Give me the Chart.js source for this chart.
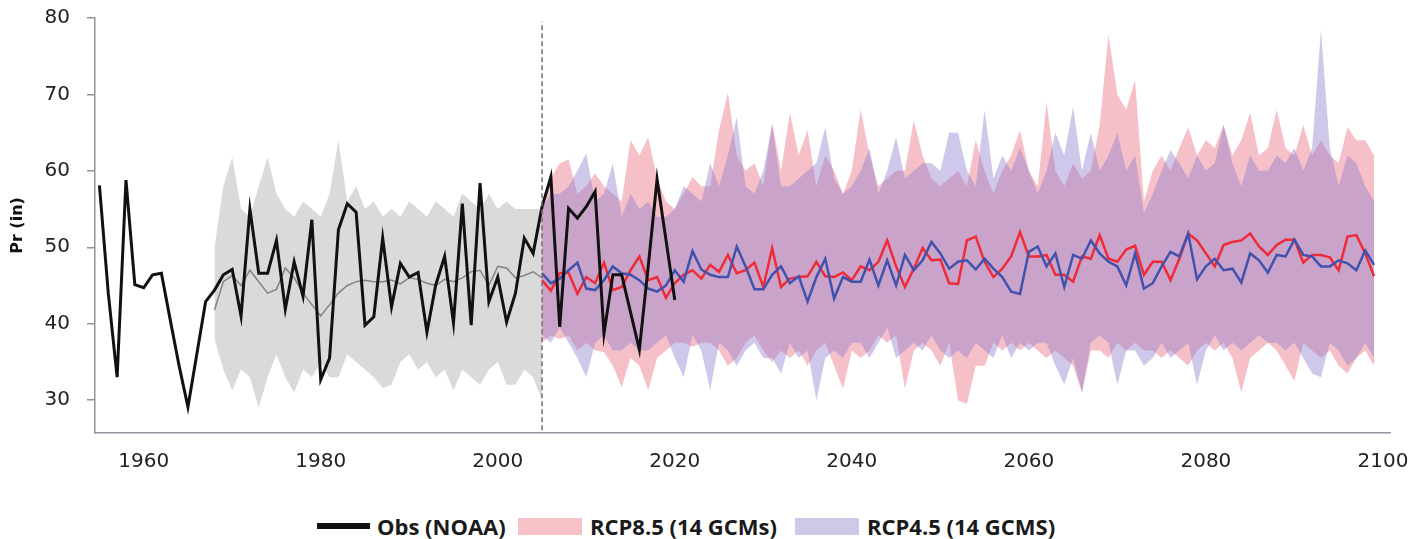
<!DOCTYPE html>
<html>
<head>
<meta charset="utf-8">
<script src="https://cdn.jsdelivr.net/npm/chart.js@4.4.0/dist/chart.umd.min.js"></script>
<style>
    html, body { margin: 0; padding: 0; background: #fff; }
    #wrap { position: relative; width: 1422px; height: 539px; }
    #chartBox { position: absolute; left: 0; top: 0; width: 1422px; height: 490px; }
    .leg {
        position: absolute; top: 512px; height: 28px;
        display: flex; align-items: center; white-space: nowrap;
        font-family: 'Open Sans'; font-weight: bold; font-size: 22px; color: #1a1a1a;
    }
    .leg .sw-line { width: 53px; height: 6px; background: #111; margin-right: 7px; }
    .leg .sw-box { width: 64px; height: 17px; margin-right: 8px; }
</style>
</head>
<body>
<div id="wrap">
    <div id="chartBox"><canvas id="prChart"></canvas></div>
    <div class="leg" style="left:317px"><div class="sw-line"></div><span>Obs (NOAA)</span></div>
    <div class="leg" style="left:518px"><div class="sw-box" style="background:#f6c2c8"></div><span>RCP8.5 (14 GCMs)</span></div>
    <div class="leg" style="left:795px"><div class="sw-box" style="background:#cdc9e7"></div><span>RCP4.5 (14 GCMS)</span></div>
</div>
<script>
// Annual precipitation (in)

const obsStart = 1955;
const obsValues = [
    58.1, 44, 33, 58.8, 45.1, 44.7, 46.4, 46.6, 40.5, 34.5,
    29.1, 36, 42.9, 44.4, 46.4, 47.1, 41.0, 55.0, 46.6, 46.6,
    50.9, 41.9, 48.1, 43.6, 53.6, 32.7, 35.5, 52.3, 55.7, 54.6,
    39.8, 40.9, 51.2, 42.2, 47.9, 46.1, 46.7, 38.9, 45.1, 48.8,
    40.1, 55.7, 39.8, 58.4, 42.9, 46.1, 40.2, 44.0, 51.2, 49.2,
    55.3, 59.2, 39.6, 55.1, 53.8, 55.3, 57.3, 38.7, 46.4, 46.4,
    41.5, 36.6, 47.5, 58.9, 51, 43.1
];

// historical GCM envelope, 1968-2005
const histStart = 1968;
const histHigh = [
    50, 58, 61.8, 55, 54, 58, 61.8, 57, 55, 54,
    56, 55, 54, 57, 64, 56, 58, 55, 56, 54,
    55, 54, 56, 55, 54, 56, 55, 54, 57, 56,
    55, 57, 55, 56, 55, 55, 55, 55
];
const histLow = [
    38, 34, 31.3, 34, 33, 29, 33, 36, 33, 31,
    34, 33, 35, 33, 33, 36, 35, 34, 33, 31.6,
    32, 35, 36, 34, 35, 33, 34, 31.3, 34, 33,
    32, 34, 35, 32, 32, 34, 33, 30
];
const histMean = [
    41.8, 45.5, 46.3, 45, 47, 45.5, 44, 44.5, 47.3, 46,
    44, 42.5, 41, 42.5, 44, 45, 45.5, 45.7, 45.5, 45.5,
    45.7, 45.2, 46, 45.8, 45.3, 45, 45.8, 45.5, 46, 46.8,
    47, 45, 47.5, 47.3, 46, 46.3, 46.8, 46
];

// projections, 2005-2099
const projStart = 2005;
const rcp85Mean = [
    45.7, 44.3, 46.6, 46.7, 43.9, 46.1, 45.3, 48.0, 44.4, 44.8,
    47.0, 48.8, 45.7, 46.1, 43.4, 45.3, 46.4, 47.0, 45.9, 47.7,
    46.8, 49.0, 46.6, 47.0, 48.0, 44.8, 49.9, 44.8, 45.9, 46.1,
    46.2, 48.1, 46.2, 46.1, 46.7, 45.7, 47.5, 47.0, 48.1, 50.9,
    47.5, 44.8, 47.2, 49.9, 48.3, 48.4, 45.3, 45.2, 50.9, 51.4,
    48.1, 46.1, 47.2, 48.8, 52.0, 48.8, 48.8, 49.0, 46.4, 46.4,
    45.5, 48.8, 48.5, 51.6, 48.5, 48.1, 49.7, 50.2, 46.4, 48.1,
    48.1, 45.7, 48.5, 51.8, 50.9, 49.2, 47.5, 50.3, 50.7, 50.9,
    51.8, 50.1, 49.0, 50.3, 51.0, 51.0, 48.0, 49.0, 49.0, 48.7,
    47.0, 51.4, 51.6, 49.2, 46.2
];
const rcp45Mean = [
    46.6, 45.3, 45.9, 47.0, 48.0, 44.6, 44.4, 45.7, 47.5, 46.6,
    46.4, 45.7, 44.6, 44.2, 45.0, 47.0, 45.5, 49.5, 47.1, 46.4,
    46.1, 46.1, 50.1, 47.5, 44.5, 44.5, 46.4, 47.5, 45.3, 46.2,
    42.9, 46.1, 48.5, 43.3, 46.1, 45.5, 45.5, 48.4, 45.0, 48.3,
    45.0, 49.0, 47.0, 48.3, 50.7, 49.2, 47.2, 48.1, 48.3, 47.1,
    48.5, 47.2, 46.1, 44.2, 43.9, 49.4, 50.1, 47.5, 49.2, 44.8,
    49.0, 48.5, 50.9, 49.2, 48.1, 47.5, 45.0, 49.2, 44.6, 45.3,
    47.5, 49.4, 48.8, 51.8, 45.8, 47.5, 48.5, 47.0, 47.2, 45.4,
    49.2, 48.3, 46.7, 49.0, 48.8, 51.0, 49.0, 48.8, 47.5, 47.5,
    48.3, 47.9, 47.0, 49.6, 47.7
];
const rcp85High = [
    56, 59, 61, 61.5, 57, 58, 59.7, 58, 57, 56,
    64, 62, 64.4, 59, 56, 55, 57, 59.2, 58, 58,
    65.3, 70.2, 62, 60, 61, 58, 66.3, 60, 67.6, 62,
    65.3, 58, 62, 60, 57, 60, 68, 62, 58, 59,
    60, 60, 66.6, 62, 59, 58, 59, 60, 58, 64,
    60, 57, 60, 62, 65.3, 60, 58, 68.9, 60, 58,
    61, 59, 60, 66, 77.8, 70, 68, 71.9, 56, 60,
    62, 60, 63, 65.7, 62, 64, 63, 66, 62, 64,
    67.6, 62, 63, 68, 63, 62, 66, 62, 64, 62,
    61, 65.7, 64, 64, 62
];
const rcp85Low = [
    37.5, 38.5, 38, 38.5, 36.5, 37.5, 36.5, 36.3, 34.5, 31.7,
    35.5, 34.5, 31.3, 35.5, 36.5, 37.5, 37.5, 37, 37.5, 37.5,
    36.5, 34.5, 35.5, 37.5, 38.5, 36.5, 35, 36.5, 35.5, 36.5,
    34.5, 36.5, 37.5, 34.5, 31.5, 36.5, 35.5, 36.5, 38.5, 37.5,
    38.5, 31.5, 36.5, 37.5, 36.5, 34.5, 37.5, 30, 29.5, 34.5,
    34.5, 37.5, 36.5, 37.5, 36.5, 37.5, 36.5, 35.5, 36.5, 35.5,
    34.5, 31, 36.5, 36.5, 35.5, 37.5, 36.5, 37.5, 36.5, 36.5,
    35.5, 36.5, 35.5, 34.5, 36.5, 37.5, 36.5, 37.5, 35.5, 31,
    35.5, 36.5, 37.5, 36.5, 34.5, 32.5, 37.5, 36.5, 35.5, 36.5,
    34.5, 33.5, 35.5, 36.5, 34.5
];
const rcp45High = [
    55, 57, 57, 58, 60, 62.3, 56, 57, 61, 54,
    57, 55, 56, 54, 54, 55, 58, 57, 56, 61,
    58, 62, 67, 58, 57, 60, 66, 58, 58, 59,
    60, 61, 65.7, 59, 57, 58, 60, 63, 57, 60,
    64.4, 59, 60, 61, 61, 60, 65, 65, 60, 58,
    68, 59, 62, 60, 63, 60, 57, 60, 65, 62,
    68.4, 60, 65, 60, 62, 65, 60, 62, 54.5, 57,
    60, 62.7, 61, 59, 62, 60, 61, 66, 61, 58,
    62, 60, 60, 62, 61, 63, 60, 63, 78.4, 63,
    58, 62, 61, 58, 56
];
const rcp45Low = [
    38.5, 37.5, 39.5, 37.5, 35.5, 33, 37.5, 38.5, 36.5, 36.5,
    37.5, 36.5, 36.5, 37.5, 38.5, 35.5, 33, 38.5, 36.5, 31.3,
    37.5, 36.5, 34.5, 36.5, 37.5, 35.5, 35.5, 33.5, 37.5, 35.5,
    36.5, 30, 35.5, 36.5, 35.5, 37.5, 37.5, 35.5, 37.5, 39.5,
    35.5, 36.5, 37.5, 36.5, 38.5, 36.5, 35.5, 36.5, 35.5, 37.5,
    36.5, 35.5, 38.5, 35.5, 37.5, 36.5, 37.5, 37.5, 34.5, 32,
    35.5, 31, 37.5, 38.5, 37.5, 32, 36.5, 36.5, 34.5, 35.5,
    37.5, 35.5, 36.5, 37.5, 32, 36.5, 38.5, 36.5, 37.5, 36.5,
    37.5, 38.5, 37.5, 37.5, 36.5, 37.5, 35.5, 33.5, 33, 37.5,
    36.5, 34.5, 35.5, 37.5, 35.5
];

const splitYear = 2005;
const yTicks = [30, 40, 50, 60, 70, 80];
const xTicks = [1960, 1980, 2000, 2020, 2040, 2060, 2080, 2100];

function toPoints(start, values) {
    return values.map((v, i) => ({ x: start + i, y: v }));
}

function lineSet(label, start, values, color, width) {
    return {
        label: label,
        data: toPoints(start, values),
        borderColor: color,
        borderWidth: width,
        pointRadius: 0,
        tension: 0,
        fill: false
    };
}

function bandSet(label, start, values, color, fillTo) {
    return {
        label: label,
        data: toPoints(start, values),
        borderWidth: 0,
        borderColor: 'rgba(0,0,0,0)',
        backgroundColor: color,
        pointRadius: 0,
        tension: 0,
        fill: fillTo
    };
}

const axisGray = '#8d949b';
const tickFont = { family: 'DejaVu Sans', size: 20 };

const ctx = document.getElementById('prChart').getContext('2d');
const prChart = new Chart(ctx, {
    type: 'line',
    data: {
        datasets: [
            {
                label: 'split',
                data: [{ x: splitYear, y: 25 }, { x: splitYear, y: 79.5 }],
                borderColor: '#7c6f6f',
                borderWidth: 1.5,
                borderDash: [5, 3],
                pointRadius: 0,
                fill: false
            },
            lineSet('Obs (NOAA)', obsStart, obsValues, '#111111', 3),
            lineSet('RCP4.5 mean', projStart, rcp45Mean, '#4152ad', 2.5),
            lineSet('RCP8.5 mean', projStart, rcp85Mean, '#ee2b36', 2.5),
            lineSet('Historical mean', histStart, histMean, '#858383', 1.5),
            bandSet('RCP4.5 high', projStart, rcp45High, 'rgba(140,125,205,0.42)', '+1'),
            bandSet('RCP4.5 low', projStart, rcp45Low, 'rgba(0,0,0,0)', false),
            bandSet('RCP8.5 high', projStart, rcp85High, 'rgba(238,130,145,0.5)', '+1'),
            bandSet('RCP8.5 low', projStart, rcp85Low, 'rgba(0,0,0,0)', false),
            bandSet('Hist high', histStart, histHigh, 'rgba(195,195,195,0.62)', '+1'),
            bandSet('Hist low', histStart, histLow, 'rgba(0,0,0,0)', false)
        ]
    },
    options: {
        responsive: true,
        maintainAspectRatio: false,
        animation: false,
        layout: {
            padding: { top: 18, right: 32, bottom: 0, left: 0 }
        },
        plugins: {
            legend: { display: false },
            tooltip: { enabled: false }
        },
        scales: {
            x: {
                type: 'linear',
                min: 1954.5,
                max: 2100.8,
                afterBuildTicks: axis => {
                    axis.ticks = xTicks.map(v => ({ value: v }));
                },
                afterFit: scale => {
                    scale.height = 57;
                    scale.paddingLeft = 0;
                    scale.paddingRight = 0;
                },
                grid: { display: false, drawTicks: false },
                border: { display: true, color: axisGray, width: 1.5 },
                ticks: {
                    padding: 17,
                    color: '#222',
                    font: tickFont,
                    maxRotation: 0,
                    callback: v => String(v)
                }
            },
            y: {
                type: 'linear',
                min: 25.7,
                max: 80,
                afterBuildTicks: axis => {
                    axis.ticks = yTicks.map(v => ({ value: v }));
                },
                afterFit: scale => {
                    scale.width = 95;
                    scale.paddingTop = 0;
                    scale.paddingBottom = 0;
                },
                grid: {
                    drawOnChartArea: false,
                    drawTicks: true,
                    tickLength: 8,
                    color: axisGray,
                    lineWidth: 1.5
                },
                border: { display: true, color: axisGray, width: 1.5 },
                title: {
                    display: true,
                    text: 'Pr (in)',
                    color: '#111',
                    font: { family: 'DejaVu Sans', size: 16, weight: 'bold' },
                    padding: { top: 8, bottom: 0 }
                },
                ticks: {
                    padding: 17,
                    color: '#222',
                    font: tickFont
                }
            }
        }
    }
});
</script>
</body>
</html>
